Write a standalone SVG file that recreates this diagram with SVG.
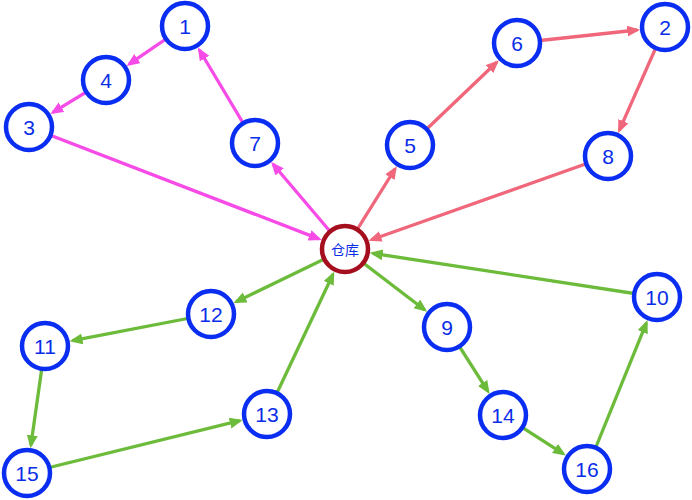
<svg xmlns="http://www.w3.org/2000/svg" width="692" height="500" viewBox="0 0 692 500">
<defs>
<style>
.n circle{fill:#fff;stroke:#0A2DF2;stroke-width:4.5}
.n text{font-family:"Liberation Sans",Arial,sans-serif;font-size:21px;fill:#0A2DE8;text-anchor:middle;dominant-baseline:central}
.w circle{fill:#fff;stroke:#A50E1E;stroke-width:4.5}
.w text{font-family:"Noto Sans CJK SC",sans-serif;font-size:14px;fill:#0A2DE8;text-anchor:middle;dominant-baseline:central}
.e line{stroke-width:3.3}
.m line{stroke:#F74BE8}
.r line{stroke:#F0667A}
.g line{stroke:#6CBB3B}
</style>
<marker id="am" markerUnits="userSpaceOnUse" markerWidth="14" markerHeight="12" refX="10" refY="5.5" orient="auto"><path d="M0,0 L13,5.5 L0,11 z" fill="#F74BE8"/></marker>
<marker id="ar" markerUnits="userSpaceOnUse" markerWidth="14" markerHeight="12" refX="10" refY="5.5" orient="auto"><path d="M0,0 L13,5.5 L0,11 z" fill="#F0667A"/></marker>
<marker id="ag" markerUnits="userSpaceOnUse" markerWidth="14" markerHeight="12" refX="10" refY="5.5" orient="auto"><path d="M0,0 L13,5.5 L0,11 z" fill="#6CBB3B"/></marker>
</defs>
<rect width="692" height="500" fill="#fff"/>
<g id="connectors" class="e">
<g class="m">
<line x1="345" y1="249" x2="273.1" y2="164.3" marker-end="url(#am)"/>
<line x1="255" y1="143" x2="199.4" y2="50.0" marker-end="url(#am)"/>
<line x1="185" y1="26" x2="129.1" y2="64.2" marker-end="url(#am)"/>
<line x1="106" y1="80" x2="52.9" y2="112.4" marker-end="url(#am)"/>
<line x1="29" y1="127" x2="318.9" y2="238.9" marker-end="url(#am)"/>
</g>
<g class="r">
<line x1="345" y1="249" x2="395.2" y2="168.7" marker-end="url(#ar)"/>
<line x1="410" y1="145" x2="496.7" y2="62.3" marker-end="url(#ar)"/>
<line x1="517" y1="43" x2="637.2" y2="30.0" marker-end="url(#ar)"/>
<line x1="665" y1="27" x2="619.3" y2="130.4" marker-end="url(#ar)"/>
<line x1="608" y1="156" x2="371.4" y2="239.7" marker-end="url(#ar)"/>
</g>
<g class="g">
<line x1="345" y1="249" x2="236.2" y2="301.8" marker-end="url(#ag)"/>
<line x1="211" y1="314" x2="72.5" y2="340.7" marker-end="url(#ag)"/>
<line x1="45" y1="346" x2="30.9" y2="445.3" marker-end="url(#ag)"/>
<line x1="27" y1="473" x2="239.8" y2="420.7" marker-end="url(#ag)"/>
<line x1="267" y1="414" x2="333.0" y2="274.3" marker-end="url(#ag)"/>
<line x1="345" y1="249" x2="424.8" y2="310.0" marker-end="url(#ag)"/>
<line x1="447" y1="327" x2="488.0" y2="391.4" marker-end="url(#ag)"/>
<line x1="503" y1="415" x2="563.4" y2="453.9" marker-end="url(#ag)"/>
<line x1="587" y1="469" x2="646.4" y2="322.9" marker-end="url(#ag)"/>
<line x1="657" y1="297" x2="372.7" y2="253.3" marker-end="url(#ag)"/>
</g>
</g>
<g id="warehouse" class="w"><circle cx="345" cy="249" r="23"/><text x="345" y="249">仓库</text></g>
<g id="n1" class="n"><circle cx="185" cy="26" r="23"/><text x="185" y="26">1</text></g>
<g id="n2" class="n"><circle cx="665" cy="27" r="23"/><text x="665" y="27">2</text></g>
<g id="n3" class="n"><circle cx="29" cy="127" r="23"/><text x="29" y="127">3</text></g>
<g id="n4" class="n"><circle cx="106" cy="80" r="23"/><text x="106" y="80">4</text></g>
<g id="n5" class="n"><circle cx="410" cy="145" r="23"/><text x="410" y="145">5</text></g>
<g id="n6" class="n"><circle cx="517" cy="43" r="23"/><text x="517" y="43">6</text></g>
<g id="n7" class="n"><circle cx="255" cy="143" r="23"/><text x="255" y="143">7</text></g>
<g id="n8" class="n"><circle cx="608" cy="156" r="23"/><text x="608" y="156">8</text></g>
<g id="n9" class="n"><circle cx="447" cy="327" r="23"/><text x="447" y="327">9</text></g>
<g id="n10" class="n"><circle cx="657" cy="297" r="23"/><text x="657" y="297">10</text></g>
<g id="n11" class="n"><circle cx="45" cy="346" r="23"/><text x="45" y="346">11</text></g>
<g id="n12" class="n"><circle cx="211" cy="314" r="23"/><text x="211" y="314">12</text></g>
<g id="n13" class="n"><circle cx="267" cy="414" r="23"/><text x="267" y="414">13</text></g>
<g id="n14" class="n"><circle cx="503" cy="415" r="23"/><text x="503" y="415">14</text></g>
<g id="n15" class="n"><circle cx="27" cy="473" r="23"/><text x="27" y="473">15</text></g>
<g id="n16" class="n"><circle cx="587" cy="469" r="23"/><text x="587" y="469">16</text></g>
</svg>
